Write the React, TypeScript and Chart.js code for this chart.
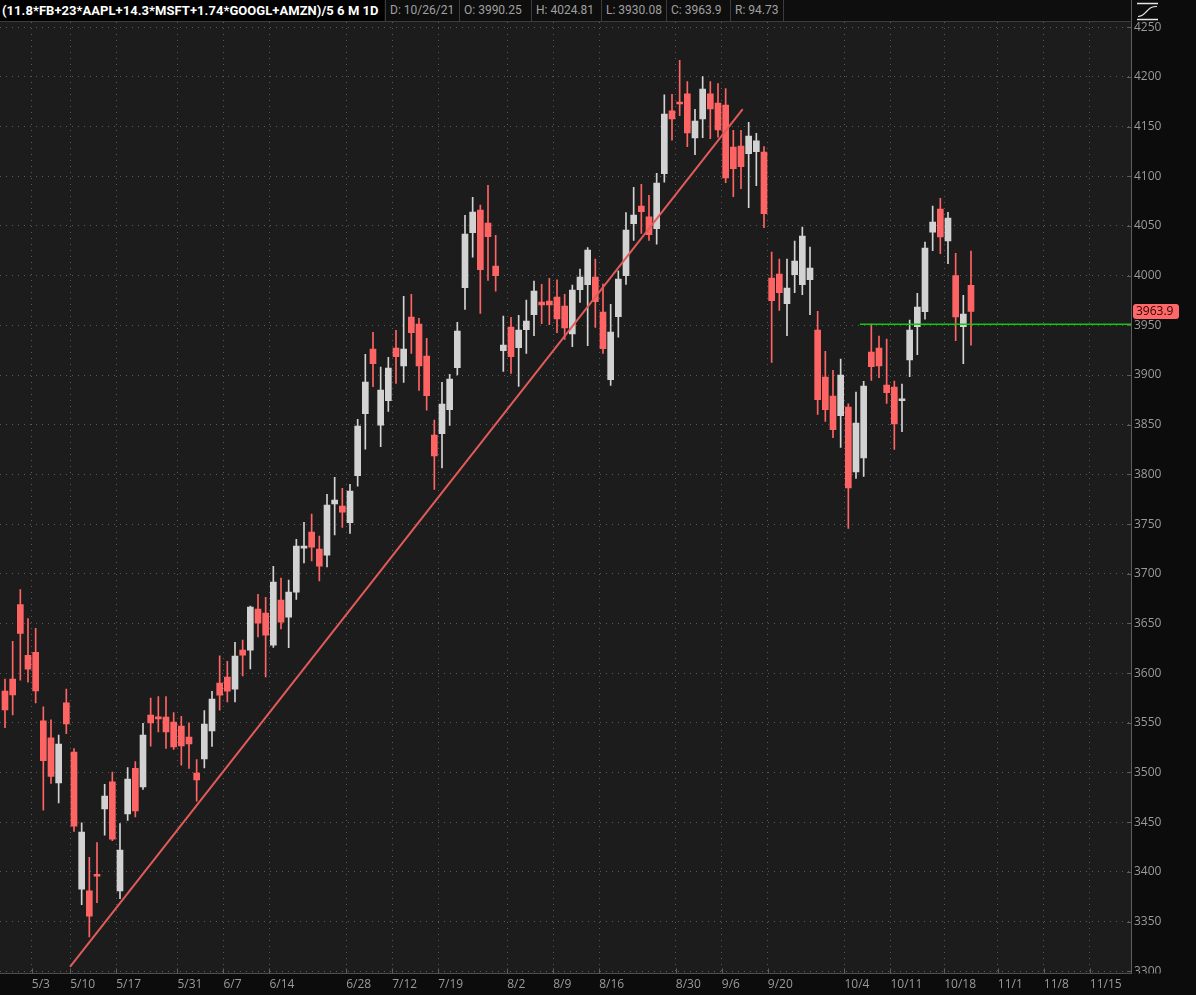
import React, { useEffect, useRef } from 'react';
import { Chart, registerables } from 'chart.js';

Chart.register(...registerables);

// Daily bars, first visible bar = index 0 (4/28/21), last = index 126 (10/26/21)
const opens = [
  3582, 3594, 3669, 3618, 3621, 3552, 3535, 3489.5, 3570, 3520.5,
  3382.6, 3380.8, 3397.6, 3463.4, 3490.6, 3380.8, 3458.4, 3504.3, 3485.5, 3557.7,
  3556, 3555.7, 3550.7, 3546.6, 3535.6, 3499.3, 3513.7, 3541.9, 3589.9, 3596,
  3583.9, 3623.1, 3623.1, 3664.4, 3660.4, 3628.2, 3673.5, 3656.4, 3681.5, 3725.8,
  3741.9, 3724.8, 3718.8, 3770.4, 3768.1, 3751.3, 3798.6, 3861, 3926.2, 3849.6,
  3874.1, 3927.2, 3909.3, 3958.4, 3951.3, 3919.1, 3839.6, 3840.9, 3865.1, 3907.3,
  3987.9, 4043.2, 4066.1, 4053, 4009.7, 3924.5, 3948.3, 3927.5, 3945.6, 3960.7,
  3973.5, 3974.5, 3978.5, 3969.5, 3941.3, 3985.9, 3990.9, 3998.6, 3963.4, 3895.3,
  3958.7, 4000, 4052.3, 4070.1, 4059.1, 4047.3, 4102.6, 4165.8, 4174.8, 4182.9,
  4138.6, 4157.7, 4182.9, 4173.8, 4171.8, 4129.5, 4130.5, 4122.8, 4124.8, 4124.5,
  3997.6, 4001.7, 3971.8, 4001, 3990.9, 3995.9, 3945.2, 3898, 3878.9, 3859,
  3867.8, 3802.6, 3816.7, 3923.1, 3927.2, 3889.9, 3887.9, 3874.1, 3915.1, 3948.6,
  3963.7, 4043.9, 4067.1, 4034.9, 4000.2, 3948.6, 3990.25,
];
const highs = [
  3594, 3632, 3684, 3655, 3645, 3566, 3553, 3537.6, 3584, 3524,
  3449.3, 3414.5, 3429.5, 3488.2, 3500.3, 3448.5, 3505, 3511, 3549.4, 3574.8,
  3576.5, 3576.5, 3560.4, 3556.4, 3550, 3513, 3562.4, 3581.6, 3617.4, 3611.8,
  3630.9, 3633.2, 3667.4, 3679.2, 3676.2, 3707.4, 3695.6, 3693.6, 3734.6, 3751.7,
  3760.1, 3737.9, 3779.9, 3797, 3785.9, 3789.9, 3855.4, 3920.8, 3943, 3908,
  3917.8, 3945, 3979.2, 3981.2, 3957, 3936.9, 3854.7, 3892.6, 3900.7, 3953,
  4060.8, 4078.9, 4071.1, 4091, 4040.6, 3959.4, 3958.1, 3960.1, 3975.5, 3994.6,
  3991.3, 3997.3, 3995.9, 3981.2, 3990.6, 4006.7, 4028.2, 4016.8, 3991.6, 3971.2,
  4005, 4063.4, 4089, 4092, 4080.9, 4103, 4181.9, 4182.6, 4216.8, 4195.3,
  4167.5, 4200.3, 4195.3, 4193.2, 4188.2, 4146.3, 4146.3, 4154.4, 4143.3, 4129.8,
  4023.8, 4016.8, 4016.8, 4034.9, 4049, 4028.8, 3964.1, 3923.8, 3904.7, 3916.1,
  3871.1, 3882.9, 3893.6, 3951.3, 3939.3, 3936.2, 3894, 3890.9, 3955.4, 3982.2,
  4033.9, 4070.1, 4077.9, 4063.8, 4022.5, 3980.2, 4024.81,
];
const lows = [
  3545, 3558, 3593, 3591, 3570, 3462, 3489, 3469.4, 3539, 3440.6,
  3367, 3334.5, 3369, 3436.9, 3431.4, 3373, 3451.7, 3455.3, 3482.9, 3526.5,
  3540.9, 3524.2, 3523.2, 3507.4, 3504, 3471.1, 3504.7, 3526.2, 3562.7, 3571.1,
  3571.1, 3597.3, 3604.3, 3636.5, 3596.3, 3625.9, 3644.6, 3625.5, 3674.2, 3711,
  3713, 3692.9, 3707, 3739, 3746.7, 3740.6, 3788.2, 3825.5, 3888.2, 3827.8,
  3863.4, 3891.6, 3892.6, 3921.8, 3884.6, 3864.7, 3784.9, 3806.4, 3849.3, 3900,
  3966.1, 4018.5, 3962.1, 3995.3, 3984.3, 3903.7, 3901.7, 3888.6, 3921.8, 3939.6,
  3951.6, 3950.6, 3942.6, 3935.9, 3928.5, 3973.2, 3929.5, 3948, 3921.8, 3889.6,
  3938, 3991.3, 4035.6, 4042.6, 4035.6, 4031.6, 4094, 4136.3, 4161, 4129.8,
  4121.8, 4138.9, 4137.9, 4139.3, 4093.6, 4079.5, 4087.5, 4068.4, 4090.6, 4048.3,
  3912.8, 3965.1, 3939.6, 3982.8, 3980.8, 3960.7, 3860.4, 3853.4, 3836.9, 3827.2,
  3745.7, 3796, 3798, 3894.6, 3897.3, 3871.5, 3825.2, 3842.9, 3898.3, 3920.4,
  3956.1, 4025.1, 4022.1, 4012, 3934.5, 3911.4, 3930.08,
];
const closes = [
  3563, 3578, 3640, 3604, 3582, 3512, 3496, 3528.5, 3549, 3446,
  3440, 3355.3, 3395.6, 3476.2, 3432.9, 3421.8, 3493.3, 3461.4, 3537.6, 3550,
  3554, 3540.9, 3525.8, 3526.8, 3528.8, 3492.6, 3548.6, 3573.8, 3577.8, 3581.9,
  3617.1, 3618.1, 3666.4, 3650.3, 3638.2, 3691.6, 3651.3, 3681.5, 3727.8, 3727.8,
  3726.8, 3707.7, 3769.1, 3774.1, 3762.1, 3783.2, 3848.6, 3892.9, 3911.4, 3884.9,
  3907, 3918.4, 3926.2, 3942.6, 3909.3, 3879.2, 3818.7, 3870.8, 3896, 3944.3,
  4041.9, 4064.1, 4006, 4039.2, 4000, 3930.2, 3918.4, 3945.3, 3954.3, 3984.5,
  3970.5, 3970.5, 3956.4, 3947.3, 3985.6, 3998.6, 4025.8, 3973.8, 3926.5, 3943.3,
  3996.6, 4046, 4061.1, 4064.4, 4041.2, 4093.3, 4162.7, 4157.7, 4172.8, 4143.6,
  4155.7, 4187.9, 4167.8, 4146.6, 4098.3, 4107.7, 4109.7, 4140.6, 4135.6, 4062.4,
  3974.8, 3982.8, 3987.6, 4014.7, 4039.9, 4007.7, 3875.1, 3865.1, 3845, 3900,
  3786.5, 3851.7, 3888.9, 3908.3, 3909.3, 3882.2, 3850.9, 3875.8, 3945.3, 3968.4,
  4027.8, 4054, 4038.9, 4058, 3958.4, 3961.4, 3963.9,
];

const xTickPos = [3.5, 8.5, 14.5, 22.5, 28.5, 34.5, 44.5, 50.5, 56.5, 65.5, 71.5, 77.5, 87.5, 93.5, 99.5, 109.5, 115.5, 122.5, 129.5, 135.5, 141.5];
const xTickLabels = ['5/3', '5/10', '5/17', '5/31', '6/7', '6/14', '6/28', '7/12', '7/19', '8/2', '8/9', '8/16', '8/30', '9/6', '9/20', '10/4', '10/11', '10/18', '11/1', '11/8', '11/15'];
const yTickValues = [4250, 4200, 4150, 4100, 4050, 4000, 3950, 3900, 3850, 3800, 3750, 3700, 3650, 3600, 3550, 3500, 3450, 3400, 3350, 3300];

const trendLine = [
  { x: 8.48, y: 3304.3 },
  { x: 96.22, y: 4167.5 },
];
const supportLevel = 3951;
const supportStart = 111.5;

const headerTitle = '(11.8*FB+23*AAPL+14.3*MSFT+1.74*GOOGL+AMZN)/5 6 M 1D';
const headerCells = ['D: 10/26/21', 'O: 3990.25', 'H: 4024.81', 'L: 3930.08', 'C: 3963.9', 'R: 94.73'];
const lastPriceLabel = '3963.9';

const X_MIN = -0.652;
const X_MAX = 146.87;
const Y_MIN = 3297.7;
const Y_MAX = 4255.3;

const UP = '#d2d2d2';
const DOWN = '#ff6464';
const FONT = '"Open Sans", "DejaVu Sans", sans-serif';

const overlayPlugin = {
  id: 'tosOverlay',
  beforeDraw(chart: any) {
    const { ctx, chartArea } = chart;
    ctx.save();
    ctx.fillStyle = '#0c0c0c';
    ctx.fillRect(0, 0, chart.width, chart.height);
    ctx.fillStyle = '#1c1c1c';
    ctx.fillRect(chartArea.left, chartArea.top, chartArea.right - chartArea.left, chartArea.bottom - chartArea.top);
    ctx.restore();
  },
  afterDraw(chart: any) {
    const { ctx, chartArea, scales } = chart;
    const xs = scales.x;
    const ys = scales.y;
    ctx.save();
    // the lowest y label is clipped by the time-axis strip
    ctx.fillStyle = '#0c0c0c';
    ctx.fillRect(chartArea.right + 1, chartArea.bottom, chart.width - chartArea.right, chart.height - chartArea.bottom);
    // inner tick marks
    ctx.strokeStyle = '#5e5e5e';
    ctx.lineWidth = 1;
    ctx.beginPath();
    xs.ticks.forEach((t: any) => {
      const px = Math.round(xs.getPixelForValue(t.value)) + 0.5;
      ctx.moveTo(px, chartArea.bottom - 5);
      ctx.lineTo(px, chartArea.bottom);
    });
    ys.ticks.forEach((t: any) => {
      const py = Math.round(ys.getPixelForValue(t.value)) + 0.5;
      ctx.moveTo(chartArea.right - 4, py);
      ctx.lineTo(chartArea.right, py);
    });
    ctx.stroke();
    // last price bubble
    const lastClose = closes[closes.length - 1];
    const py = ys.getPixelForValue(lastClose);
    const bx = chartArea.right + 2;
    const bw = 46;
    const bh = 15;
    const by = Math.round(py - bh / 2);
    ctx.fillStyle = '#ff6868';
    ctx.beginPath();
    (ctx as any).roundRect(bx, by, bw, bh, 3);
    ctx.fill();
    ctx.fillStyle = '#2a0505';
    ctx.font = `12px ${FONT}`;
    ctx.textBaseline = 'middle';
    ctx.textAlign = 'left';
    ctx.fillText(lastPriceLabel, bx + 3, by + bh / 2 + 0.5);
    ctx.restore();
  },
};

export default function App() {
  const canvasRef = useRef<HTMLCanvasElement | null>(null);

  useEffect(() => {
    document.body.style.margin = '0';
    document.body.style.background = '#0c0c0c';
    const canvas = canvasRef.current;
    if (!canvas) return;

    const idx = opens.map((_, i) => i);
    const colors = idx.map((i) => (closes[i] >= opens[i] ? UP : DOWN));
    const bodies = idx.map((i) => ({ x: i, y: [Math.min(opens[i], closes[i]), Math.max(opens[i], closes[i])] }));
    const wicks = idx.map((i) => ({ x: i, y: [lows[i], highs[i]] }));

    const chart = new Chart(canvas, {
      type: 'bar',
      data: {
        datasets: [
          {
            type: 'line',
            data: trendLine,
            borderColor: '#e25a5a',
            borderWidth: 2,
            pointRadius: 0,
            order: 0,
          } as any,
          {
            type: 'line',
            data: [
              { x: supportStart, y: supportLevel },
              { x: X_MAX, y: supportLevel },
            ],
            borderColor: '#10c810',
            borderWidth: 1.5,
            pointRadius: 0,
            order: 0,
          } as any,
          {
            type: 'bar',
            data: bodies,
            backgroundColor: colors,
            barThickness: 6,
            minBarLength: 2,
            grouped: false,
            order: 1,
          } as any,
          {
            type: 'bar',
            data: wicks,
            backgroundColor: colors,
            barThickness: 1,
            grouped: false,
            order: 2,
          } as any,
        ],
      },
      options: {
        animation: false,
        responsive: false,
        events: [],
        layout: { padding: { top: 22, left: 0, right: 0, bottom: 0 } },
        plugins: { legend: { display: false }, tooltip: { enabled: false } },
        scales: {
          x: {
            type: 'linear',
            min: X_MIN,
            max: X_MAX,
            offset: false,
            afterBuildTicks: (scale: any) => {
              scale.ticks = xTickPos.map((v) => ({ value: v }));
            },
            afterFit: (scale: any) => {
              scale.height = 21.5;
            },
            grid: { offset: false, color: '#5a5a5a', lineWidth: 1, drawTicks: false },
            border: { display: true, color: '#4e4e4e', width: 1, dash: [1, 5] },
            ticks: {
              autoSkip: false,
              maxRotation: 0,
              minRotation: 0,
              align: 'start',
              padding: 4,
              color: '#9a9a9a',
              font: { family: FONT, size: 12 },
              callback: (_v: any, i: number) => xTickLabels[i],
            },
          } as any,
          y: {
            type: 'linear',
            position: 'right',
            min: Y_MIN,
            max: Y_MAX,
            afterBuildTicks: (scale: any) => {
              scale.ticks = yTickValues.map((v) => ({ value: v }));
            },
            afterFit: (scale: any) => {
              scale.width = 65;
            },
            grid: { color: '#5a5a5a', lineWidth: 1, drawTicks: false },
            border: { display: true, color: '#5e5e5e', width: 1, dash: [1, 5] },
            ticks: {
              padding: 3,
              color: '#9a9a9a',
              font: { family: FONT, size: 12 },
              callback: (v: any) => String(v),
            },
          } as any,
        },
      },
      plugins: [overlayPlugin],
    });

    return () => chart.destroy();
  }, []);

  const cellEdges = [385, 459, 531, 601, 666, 730, 783];

  return (
    <div style={{ position: 'fixed', left: 0, top: 0, width: 1196, height: 995, background: '#0c0c0c', overflow: 'hidden' }}>
      <canvas ref={canvasRef} width={1196} height={995} style={{ position: 'absolute', left: 0, top: 0, width: 1196, height: 995 }} />
      <div
        style={{
          position: 'absolute',
          left: 0,
          top: 0,
          width: 1131,
          height: 21,
          background: '#0e0e0e',
          borderBottom: '1px solid #3c3c3c',
          borderRight: '1px solid #5e5e5e',
        }}
      >
        <div
          style={{
            position: 'absolute',
            left: 0,
            top: 0,
            width: 384,
            height: 21,
            background: '#000',
            color: '#ffffff',
            fontFamily: 'Roboto, "Open Sans", sans-serif',
            fontWeight: 700,
            fontSize: 13,
            lineHeight: '21px',
            paddingLeft: 2,
            whiteSpace: 'nowrap',
            letterSpacing: '0.05px',
            boxSizing: 'border-box',
          }}
        >
          {headerTitle}
        </div>
        {headerCells.map((t, i) => (
          <div
            key={t}
            style={{
              position: 'absolute',
              left: cellEdges[i],
              top: 0,
              width: cellEdges[i + 1] - cellEdges[i],
              height: 21,
              borderLeft: '1px solid #3c3c3c',
              color: '#a0a0a0',
              fontFamily: 'Roboto, "Open Sans", sans-serif',
              fontSize: 12,
              lineHeight: '21px',
              paddingLeft: 4,
              whiteSpace: 'nowrap',
              boxSizing: 'border-box',
            }}
          >
            {t}
          </div>
        ))}
        <div style={{ position: 'absolute', left: cellEdges[6], top: 0, width: 1, height: 21, background: '#3c3c3c' }} />
      </div>
      <svg style={{ position: 'absolute', left: 1136, top: 1 }} width={24} height={20}>
        <line x1={1} y1={2.5} x2={22} y2={2.5} stroke="#e6e6e6" strokeWidth={1.5} />
        <line x1={1} y1={18.5} x2={22} y2={18.5} stroke="#e6e6e6" strokeWidth={1.5} />
        <path d="M2 15.5 C7 15.5 8 13 11 10 C14 7 15 5.5 21 5.5" fill="none" stroke="#e6e6e6" strokeWidth={1.2} />
      </svg>
    </div>
  );
}
